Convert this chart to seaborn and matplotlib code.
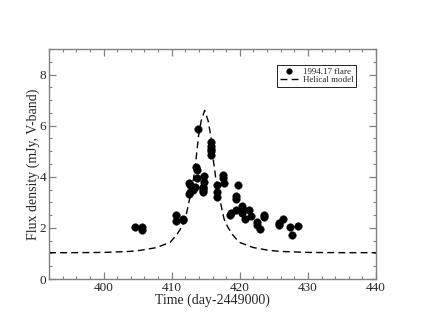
import numpy as np
import pandas as pd
import matplotlib
matplotlib.use("Agg")
import matplotlib.pyplot as plt
from matplotlib.ticker import MultipleLocator
import seaborn as sns

# ==========================================================
# DATA
# ==========================================================

flare_day = [
    404.65, 405.6, 405.6, 410.7, 410.7, 411.65, 411.65,
    412.6, 412.65, 412.7, 412.6, 413.2, 413.5, 413.6, 413.7, 413.7, 413.85,
    414.6, 414.6, 414.7, 414.7, 414.65, 414.6,
    415.77, 415.77, 415.77, 415.77, 415.8,
    416.65, 416.7, 416.7, 417.6, 417.6, 417.7,
    418.6, 418.66, 419.5, 419.5, 419.7, 419.5,
    420.3, 420.3, 420.4, 420.8, 421.4, 421.7,
    422.5, 422.6, 422.9, 423.5, 423.6,
    425.7, 425.7, 426.3, 427.4, 427.6, 428.5,
]
flare_flux = [
    2.04, 2.04, 1.92, 2.5, 2.27, 2.33, 2.3,
    3.74, 3.67, 3.41, 3.32, 3.48, 3.61, 4.39, 4.26, 3.97, 5.86,
    3.41, 3.61, 4.02, 3.8, 3.58, 3.48,
    5.36, 5.2, 5.02, 4.84, 5.1,
    3.67, 3.41, 3.21, 4.06, 3.96, 3.74,
    2.5, 2.57, 3.24, 3.15, 3.67, 2.7,
    2.85, 2.76, 2.57, 2.33, 2.7, 2.46,
    2.24, 2.13, 1.94, 2.42, 2.51,
    2.2, 2.1, 2.33, 2.02, 1.72, 2.06,
]

model_day = [
    392.0, 396.0, 400.0, 403.9, 405.4, 407.8, 409.8, 410.8, 411.5, 412.0,
    412.7, 413.2, 413.55, 413.95, 414.35, 414.85, 415.35, 415.75, 416.15,
    416.5, 417.0, 417.7, 418.2, 418.9, 419.9, 422.0, 424.3, 425.9, 430.0,
    435.0, 440.0,
]
model_flux = [
    1.03, 1.03, 1.04, 1.08, 1.12, 1.23, 1.44, 1.75, 2.05, 2.35,
    3.2, 3.9, 4.6, 5.6, 6.2, 6.6, 6.2, 5.6, 4.6,
    3.9, 3.2, 2.35, 2.05, 1.75, 1.44, 1.23, 1.12, 1.08, 1.04,
    1.03, 1.03,
]

flare_label = "1994.17 flare"
model_label = "Helical model"

flare = pd.DataFrame({"day": flare_day, "flux": flare_flux})
model = pd.DataFrame({"day": model_day, "flux": model_flux})

# ==========================================================
# PLOT
# ==========================================================

sns.set_style("ticks")
plt.rcParams["font.family"] = ["Liberation Serif", "DejaVu Serif"]

fig = plt.figure(figsize=(4.23, 3.27), dpi=100)
ax = fig.add_axes([49 / 423, 1 - 279 / 327, 327 / 423, 230 / 327])

sns.scatterplot(
    x="day", y="flux", data=flare, ax=ax,
    color="black", s=30, edgecolor="black", linewidth=0.3,
    label=flare_label, zorder=3
)
sns.lineplot(
    x="day", y="flux", data=model, ax=ax,
    color="black", linewidth=1.0, linestyle=(0, (5, 3)),
    label=model_label, sort=False, zorder=2
)

ax.set_xlim(392, 440)
ax.set_ylim(0, 9)
ax.xaxis.set_major_locator(MultipleLocator(10))
ax.xaxis.set_minor_locator(MultipleLocator(2))
ax.yaxis.set_major_locator(MultipleLocator(2))
ax.yaxis.set_minor_locator(MultipleLocator(0.5))

ax.tick_params(which="both", direction="in", top=True, right=True,
               color="#808080", labelsize=9.5, pad=2)
ax.tick_params(which="major", length=5, width=0.9)
ax.tick_params(which="minor", length=2.5, width=0.8)
for spine in ax.spines.values():
    spine.set_color("#808080")
    spine.set_linewidth(1.0)

ax.set_xlabel("Time (day-2449000)", fontsize=10, labelpad=0)
ax.set_ylabel("Flux density (mJy, V-band)", fontsize=10, labelpad=0)

leg = ax.legend(
    loc="upper right", bbox_to_anchor=(307 / 327, 214 / 230),
    borderaxespad=0,
    fontsize=6.5, frameon=True, fancybox=False, framealpha=1,
    handlelength=2.0, handletextpad=0.6, borderpad=0.25,
    labelspacing=0.05, markerscale=0.75
)
leg.get_frame().set_edgecolor("black")
leg.get_frame().set_linewidth(0.6)

plt.savefig("out.png", dpi=100)
